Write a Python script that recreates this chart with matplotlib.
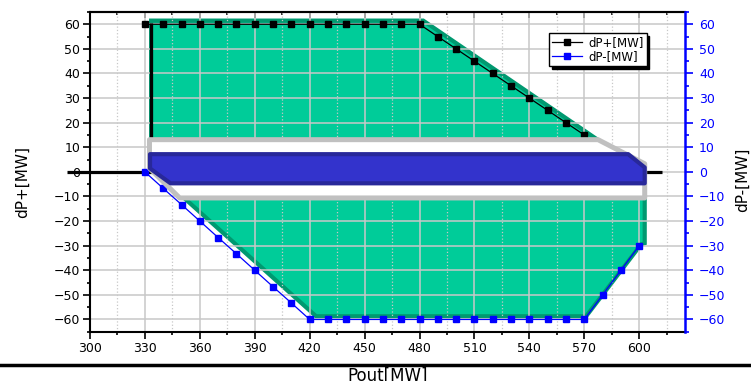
import numpy as np
import matplotlib.pyplot as plt
from matplotlib.patches import Polygon
from matplotlib.lines import Line2D
from matplotlib.ticker import MultipleLocator

plt.rcParams['font.family'] = ['DejaVu Sans']

# dP+ series (black)
up_x = [330, 340, 350, 360, 370, 380, 390, 400, 410, 420, 430, 440, 450, 460, 470,
        480, 490, 500, 510, 520, 530, 540, 550, 560, 570]
up_y = [60, 60, 60, 60, 60, 60, 60, 60, 60, 60, 60, 60, 60, 60, 60,
        60, 55, 50, 45, 40, 35, 30, 25, 20, 15]

# dP- series (blue)
dn_x = [330, 340, 350, 360, 370, 380, 390, 400, 410, 420, 430, 440, 450, 460, 470,
        480, 490, 500, 510, 520, 530, 540, 550, 560, 570, 580, 590, 600]
dn_y = [0, -6.7, -13.3, -20, -26.7, -33.3, -40, -46.7, -53.3, -60, -60, -60, -60, -60, -60,
        -60, -60, -60, -60, -60, -60, -60, -60, -60, -60, -50, -40, -30]

# operating region (green)
reg_x = [333.4, 482, 603, 603, 601, 571, 423.5, 335.5, 333.4]
reg_y = [61.5, 61.5, 0, -29, -29.5, -58.7, -58.7, 0, 0]

# white frame and blue band across zero
box_x = [332.5, 577.5, 603, 603, 349, 332.5]
box_y = [13.1, 13.1, 3.3, -10.6, -10.6, 1.5]
band_x = [332.8, 594, 603, 603, 344, 332.8]
band_y = [7.2, 7.2, 1.8, -4.65, -4.65, 1.4]

# black outline lines
zero_x = [287.5, 612.5]
zero_y = [0, 0]
left_x = [333.4, 333.4]
left_y = [60.5, 0]

fig = plt.figure(figsize=(7.51, 3.81), dpi=100)
ax = fig.add_axes([0.1198, 0.1273, 0.7923, 0.8412])
ax.set_xlim(300, 625)
ax.set_ylim(-65.3, 65)
ax.set_axisbelow('line')

ax.add_patch(Polygon(np.column_stack([reg_x, reg_y]), closed=True, facecolor='#00cc99',
                     edgecolor='#009970', lw=3, zorder=1))

ax.plot(zero_x, zero_y, color='black', lw=2.3, zorder=2.5, clip_on=False, solid_capstyle='butt')
ax.plot(left_x, left_y, color='black', lw=2.3, zorder=2.5, solid_capstyle='butt')

l_up, = ax.plot(up_x, up_y, color='black', lw=0.9, marker='s', ms=5, zorder=3, label='dP+[MW]')
l_dn, = ax.plot(dn_x, dn_y, color='#0000ff', lw=0.9, marker='s', ms=5, zorder=3, label='dP-[MW]')

ax.add_patch(Polygon(np.column_stack([box_x, box_y]), closed=True, facecolor='white',
                     edgecolor='#c0c0c0', lw=3.6, joinstyle='round', zorder=4))
ax.add_patch(Polygon(np.column_stack([band_x, band_y]), closed=True, facecolor='#3333cc',
                     edgecolor='#28289a', lw=3, joinstyle='round', zorder=5))

# ticks and grid
ax.xaxis.set_major_locator(MultipleLocator(30))
ax.xaxis.set_minor_locator(MultipleLocator(15))
ax.yaxis.set_major_locator(MultipleLocator(10))
ax.yaxis.set_minor_locator(MultipleLocator(5))
ax.grid(which='major', color='#c8c8c8', lw=1.1)
ax.grid(which='minor', axis='x', color='#c8c8c8', lw=0.9, ls=':')
ax.tick_params(axis='x', which='major', direction='out', length=5, width=1.2, labelsize=9, pad=2)
ax.tick_params(axis='x', which='minor', direction='out', length=2.5, width=1.2)
ax.tick_params(axis='y', which='major', direction='out', length=5, width=1.2, labelsize=9, pad=2)
ax.tick_params(axis='y', which='minor', direction='out', length=2.5, width=1.2)
for s in ['left', 'bottom', 'top']:
    ax.spines[s].set_linewidth(1.5)
ax.spines['right'].set_visible(False)

top = ax.secondary_xaxis('top')
top.xaxis.set_major_locator(MultipleLocator(30))
top.xaxis.set_minor_locator(MultipleLocator(15))
top.tick_params(which='major', direction='in', length=4, width=1.2, labeltop=False)
top.tick_params(which='minor', direction='in', length=2.5, width=1.2)
top.spines['top'].set_linewidth(1.5)

ax2 = ax.twinx()
ax2.set_ylim(ax.get_ylim())
ax2.yaxis.set_major_locator(MultipleLocator(10))
ax2.yaxis.set_minor_locator(MultipleLocator(5))
ax2.tick_params(axis='y', which='major', direction='out', length=6, width=1.2,
                colors='#0000ff', labelsize=9, pad=4)
ax2.tick_params(axis='y', which='minor', direction='out', length=3, width=1.2, colors='#0000ff')
ax2.spines['right'].set_color('#0000ff')
ax2.spines['right'].set_linewidth(1.8)
for s in ['left', 'top', 'bottom']:
    ax2.spines[s].set_visible(False)

ax2.legend([l_up, l_dn], ['dP+[MW]', 'dP-[MW]'], loc='upper left',
           bbox_to_anchor=(0.771, 0.934), fancybox=False, shadow={'color': 'black', 'alpha': 1},
           edgecolor='black', framealpha=1, fontsize=8.5, handlelength=2.6, borderpad=0.25,
           labelspacing=0.1, handletextpad=0.5, borderaxespad=0)

fig.text(22 / 751, 1 - 182 / 381, 'dP+[MW]', rotation=90, ha='center', va='center', fontsize=11)
fig.text(742 / 751, 1 - 180 / 381, 'dP-[MW]', rotation=90, ha='center', va='center', fontsize=11)
fig.text(388 / 751, 1 - 367 / 381, 'Pout[MW]', ha='center', va='top', fontsize=12)
fig.add_artist(Line2D([0, 1], [1 - 365 / 381] * 2, transform=fig.transFigure, color='black', lw=2.5))

fig.savefig('out.png', dpi=100)
